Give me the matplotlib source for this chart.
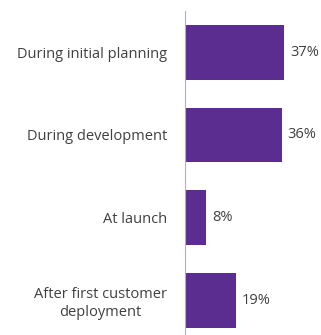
import matplotlib
matplotlib.use("Agg")
import matplotlib.pyplot as plt

categories = ["During initial planning", "During development", "At launch",
              "After first customer\ndeployment"]
values = [37, 36, 8, 19]

BAR = "#5C2D91"
TEXT = "#404040"

plt.rcParams["font.family"] = ["Open Sans", "DejaVu Sans"]

fig = plt.figure(figsize=(3.21, 3.35), dpi=100)
W, H = 321, 335
ax = fig.add_axes([185 / W, 0, (W - 185) / W, (335 - 11) / H])

y = list(range(len(categories)))
ax.barh(y, values, height=0.66, color=BAR)
ax.set_ylim(3.42, -0.5)
ax.set_xlim(0, 50.7)

for yi, v in zip(y, values):
    ax.text(v + 2.2, yi, f"{v}%", va="center", ha="left", fontsize=10.5, color=TEXT)

ax.set_yticks(y)
ax.set_yticklabels(categories, fontsize=10.5, color=TEXT, linespacing=1.25,
                   multialignment="center")
ax.tick_params(axis="y", length=0, pad=13)
ax.set_xticks([])
for s in ["top", "right", "bottom"]:
    ax.spines[s].set_visible(False)
ax.spines["left"].set_color("#B9A6D6")
ax.spines["left"].set_linewidth(0.8)

fig.savefig("out.png", dpi=100)
